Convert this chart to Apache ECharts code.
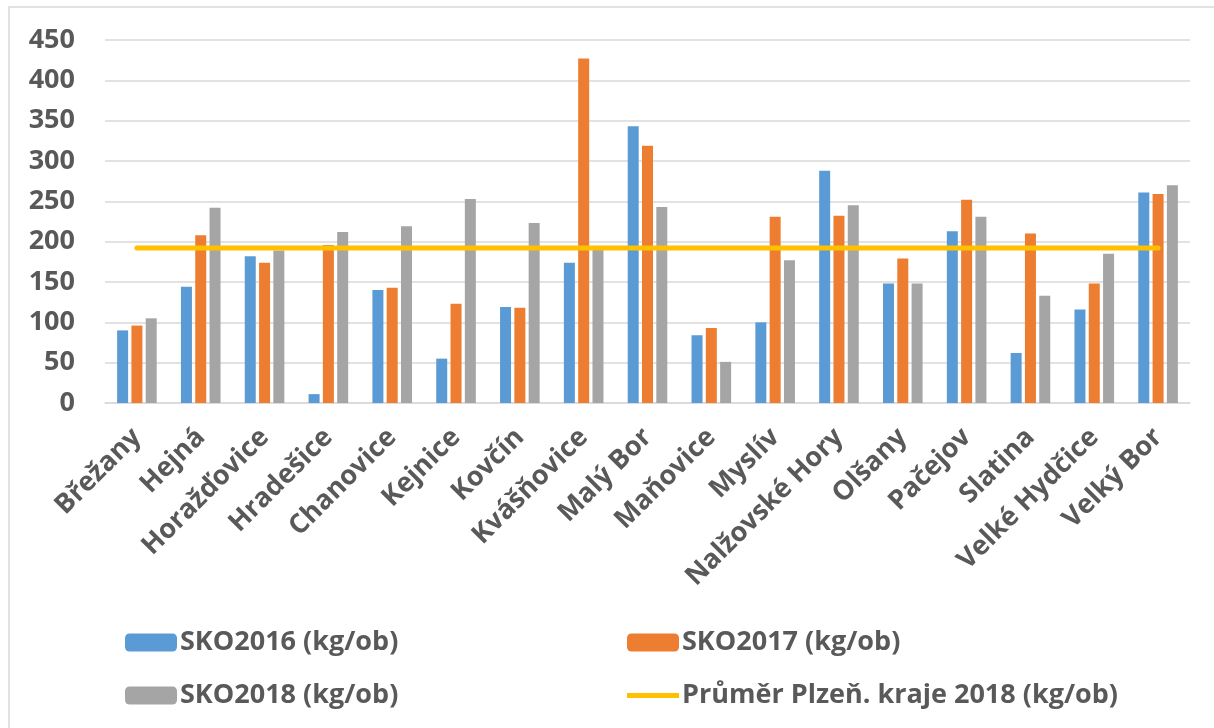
<!DOCTYPE html>
<html>
<head>
<meta charset="utf-8">
<script src="https://cdn.jsdelivr.net/npm/echarts@6/dist/echarts.min.js"></script>
<style>
html,body{margin:0;padding:0;background:#fff;}
#chart{width:1214px;height:728px;}
</style>
</head>
<body>
<div id="chart"></div>
<script>
const categories = ['Břežany','Hejná','Horažďovice','Hradešice','Chanovice','Kejnice','Kovčín','Kvášňovice','Malý Bor','Maňovice','Myslív','Nalžovské Hory','Olšany','Pačejov','Slatina','Velké Hydčice','Velký Bor'];
const sko2016 = [90,144,182,11,140,55,119,174,343,84,100,288,148,213,62,116,261];
const sko2017 = [96,208,174,196,143,123,118,427,319,93,231,232,179,252,210,148,259];
const sko2018 = [105,242,189,212,219,253,223,190,243,51,177,245,148,231,133,185,270];
const krajAvg2018 = 192;
const avgLine = categories.map(() => krajAvg2018);
const seriesNames = ['SKO2016 (kg/ob)','SKO2017 (kg/ob)','SKO2018 (kg/ob)','Průměr Plzeň. kraje 2018 (kg/ob)'];

const txt = '#595959';
const font = 'Open Sans';
const chart = echarts.init(document.getElementById('chart'), null, {renderer:'canvas'});
const legendText = {color: txt, fontFamily: font, fontWeight: 'bold', fontSize: 27, padding:[0,0,0,-2]};
function mkLegend(left, top, item, h) {
  return {left: left, top: top, data: [item], itemWidth: 52, itemHeight: h, itemGap: 0,
          textStyle: legendText, selectedMode: false};
}
chart.setOption({
  animation: false,
  backgroundColor: '#fff',
  graphic: [{
    type: 'rect', shape: {x: 9, y: 7, width: 1220, height: 740},
    style: {fill: 'none', stroke: '#D9D9D9', lineWidth: 1.5}, silent: true
  }],
  grid: {left: 105, right: 24, top: 40, bottom: 325},
  legend: [
    mkLegend(120, 624, seriesNames[0], 18),
    mkLegend(622, 624, seriesNames[1], 18),
    mkLegend(120, 677, seriesNames[2], 18),
    mkLegend(622, 677, {name: seriesNames[3], icon: 'path://M0,0 L52,0 L52,5 L0,5 Z', itemStyle:{color:'#FFC000'}}, 6)
  ],
  xAxis: {
    type: 'category', data: categories,
    axisLine: {lineStyle: {color: '#D9D9D9', width: 1.5}},
    axisTick: {show: false},
    axisLabel: {rotate: 45, interval: 0, color: txt, fontFamily: font, fontWeight: 'bold', fontSize: 27, margin: 30}
  },
  yAxis: {
    type: 'value', min: 0, max: 450, interval: 50,
    axisLine: {show: false}, axisTick: {show: false},
    splitLine: {lineStyle: {color: '#D9D9D9', width: 1.5}},
    axisLabel: {color: txt, fontFamily: font, fontWeight: 'bold', fontSize: 27, margin: 30}
  },
  series: [
    {name: seriesNames[0], type: 'bar', data: sko2016, barWidth: 11, barGap: '30%', itemStyle: {color: '#5B9BD5'}},
    {name: seriesNames[1], type: 'bar', data: sko2017, barWidth: 11, barGap: '30%', itemStyle: {color: '#ED7D31'}},
    {name: seriesNames[2], type: 'bar', data: sko2018, barWidth: 11, barGap: '30%', itemStyle: {color: '#A5A5A5'}},
    {name: seriesNames[3], type: 'line', data: avgLine, symbol: 'none', z: 5,
     lineStyle: {color: '#FFC000', width: 5, cap: 'round'}, itemStyle: {color: '#FFC000'}}
  ]
});
</script>
</body>
</html>
